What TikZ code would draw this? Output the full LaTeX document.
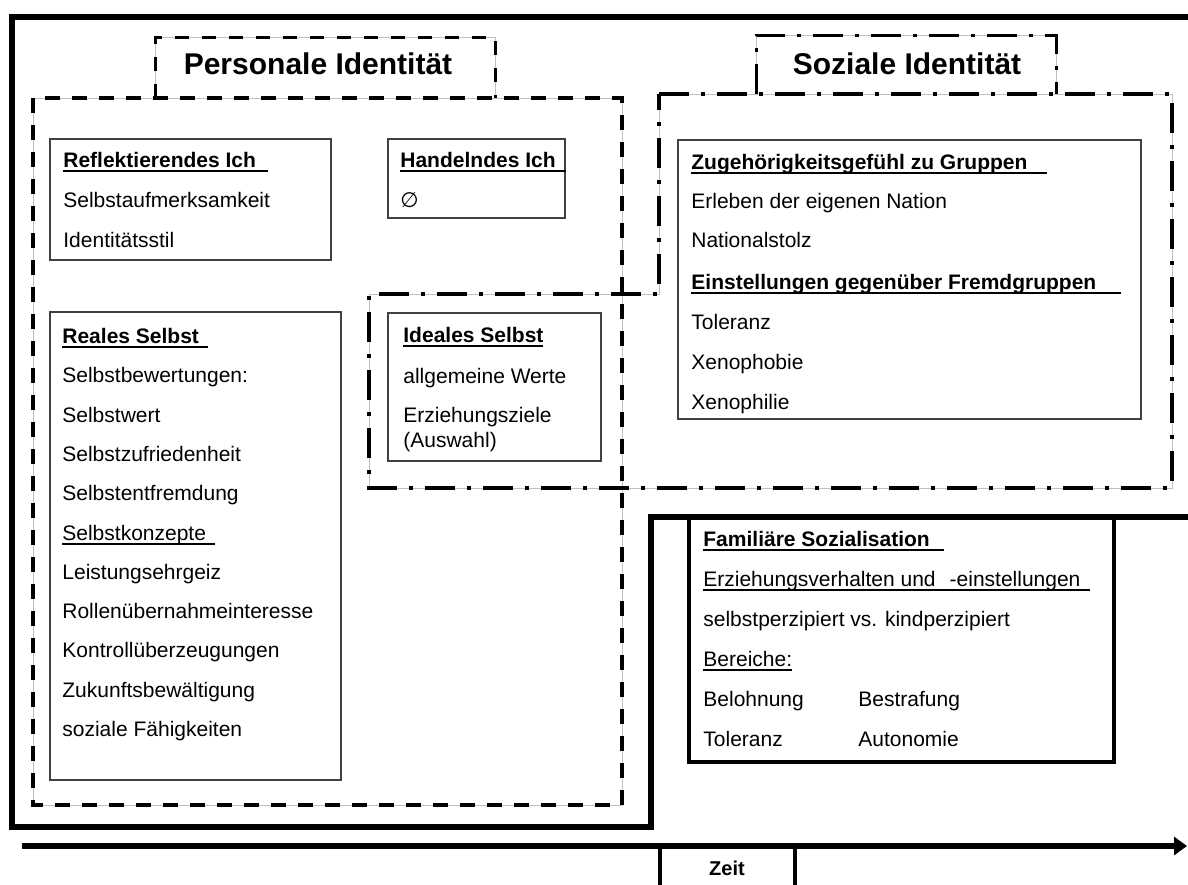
\documentclass[tikz,border=0pt]{standalone}
\usepackage{fontspec}
\setmainfont{Liberation Sans}
\newfontfamily\symfont{DejaVu Sans}
\usetikzlibrary{arrows.meta}

% underline that can run on past the end of the text by #2
\newsavebox\ulbox
\newcommand{\myul}[2]{\sbox\ulbox{#1}\leavevmode\rlap{\rule[-2.4pt]{\dimexpr\wd\ulbox+#2\relax}{0.9pt}}\usebox\ulbox}

\tikzset{
  frame/.style={line width=2.75pt, line join=miter},
  innerbox/.style={draw=black!75, line width=0.7pt},
  famframe/.style={line width=1.6pt, line join=miter},
  guide/.style={draw=black!25, line width=0.5pt},
  pdash/.style={line width=2pt, dash pattern=on 7.5pt off 6pt},
  ptitledash/.style={line width=1.5pt, dash pattern=on 7pt off 6.5pt},
  sdash/.style={line width=2pt, dash pattern=on 15pt off 6pt on 2pt off 6pt},
  stitledash/.style={line width=1.5pt, dash pattern=on 15pt off 6pt on 2pt off 6pt},
  txt/.style={anchor=base west, inner sep=0pt, font=\fontsize{10.5}{12}\selectfont},
  hd/.style={txt, font=\fontsize{10.5}{12}\selectfont\bfseries},
  title/.style={anchor=base, inner sep=0pt, font=\fontsize{15}{18}\selectfont\bfseries},
}

\begin{document}
\begin{tikzpicture}[x=0.5pt, y=-0.5pt]
\useasboundingbox (0,0) rectangle (1188,884);

% ---- outer solid frame ----
\draw[frame] (1200,17) -- (12,17) -- (12,827) -- (651,827) -- (651,517) -- (1200,517);

% ---- Personale Identitaet: dashed region with title tab ----
\draw[guide] (33,98) rectangle (622,805);
\draw[guide] (155,98) -- (155,37) -- (495,37) -- (495,98);
\draw[pdash] (33,98) rectangle (622,805);
\draw[ptitledash] (155,98) -- (155,37) -- (495,37) -- (495,98);
\node[title] (ptitle) at (318,74) {Personale Identität};

% ---- Soziale Identitaet: dash-dot region with title tab ----
\draw[guide] (659,94) -- (1172,94) -- (1172,488) -- (369,488) -- (369,294) -- (659,294) -- cycle;
\draw[guide] (756,94) -- (756,35) -- (1056,35) -- (1056,94);
\draw[sdash] (659,94) -- (1172,94) -- (1172,488) -- (369,488) -- (369,294) -- (659,294) -- cycle;
\draw[stitledash] (756,94) -- (756,35) -- (1056,35) -- (1056,94);
\node[title] (stitle) at (907,74) {Soziale Identität};

% ---- Reflektierendes Ich ----
\draw[innerbox] (50,139) rectangle (331,260);
\node[hd]  (r1) at (63,167) {\myul{Reflektierendes Ich}{6pt}};
\node[txt] (r2) at (63,207) {Selbstaufmerksamkeit};
\node[txt] (r3) at (63,247) {Identitätsstil};

% ---- Handelndes Ich ----
\draw[innerbox] (388,139) rectangle (565,218);
\node[hd]  (h1) at (400,167) {\myul{Handelndes Ich}{5pt}};
\node[txt] (h2) at (400,207) {\symfont ∅};

% ---- Reales Selbst ----
\draw[innerbox] (50,312) rectangle (341,780);
\node[hd]  (rs0)  at (62,343) {\myul{Reales Selbst}{4.5pt}};
\node[txt] (rs1)  at (62,382) {Selbstbewertungen:};
\node[txt] (rs2)  at (62,422) {Selbstwert};
\node[txt] (rs3)  at (62,461) {Selbstzufriedenheit};
\node[txt] (rs4)  at (62,500) {Selbstentfremdung};
\node[txt] (rs5)  at (62,540) {\myul{Selbstkonzepte}{4.5pt}};
\node[txt] (rs6)  at (62,579) {Leistungsehrgeiz};
\node[txt] (rs7)  at (62,618) {Rollenübernahmeinteresse};
\node[txt] (rs8)  at (62,657) {Kontrollüberzeugungen};
\node[txt] (rs9)  at (62,697) {Zukunftsbewältigung};
\node[txt] (rs10) at (62,736) {soziale Fähigkeiten};

% ---- Ideales Selbst ----
\draw[innerbox] (388,313) rectangle (601,461);
\node[hd]  (is0) at (403,342) {\myul{Ideales Selbst}{0pt}};
\node[txt] (is1) at (403,383) {allgemeine Werte};
\node[txt] (is2) at (403,422) {Erziehungsziele};
\node[txt] (is3) at (403,447) {(Auswahl)};

% ---- Zugehoerigkeitsgefuehl / Einstellungen ----
\draw[innerbox] (678,140) rectangle (1141,419);
\node[hd]  (z0) at (691,169) {\myul{Zugehörigkeitsgefühl zu Gruppen}{10pt}};
\node[txt] (z1) at (691,208) {Erleben der eigenen Nation};
\node[txt] (z2) at (691,247) {Nationalstolz};
\node[hd]  (z3) at (691,289) {\myul{Einstellungen gegenüber Fremdgruppen}{12.5pt}};
\node[txt] (z4) at (691,329) {Toleranz};
\node[txt] (z5) at (691,369) {Xenophobie};
\node[txt] (z6) at (691,409) {Xenophilie};

% ---- Familiaere Sozialisation ----
\draw[famframe] (689,517) -- (689,762) -- (1114,762) -- (1114,517);
\node[hd]  (f0) at (703,546) {\myul{Familiäre Sozialisation}{7pt}};
\node[txt] (f1) at (703,586) {\myul{Erziehungsverhalten und\hspace{7pt}-einstellungen}{5pt}};
\node[txt] (f2) at (703,626) {selbstperzipiert vs. kindperzipiert};
\node[txt] (f3) at (703,666) {\myul{Bereiche:}{0pt}};
\node[txt] (f4) at (703,706) {Belohnung};
\node[txt] (f5) at (858,706) {Bestrafung};
\node[txt] (f6) at (703,746) {Toleranz};
\node[txt] (f7) at (858,746) {Autonomie};

% ---- time axis ----
\coordinate (tstart) at (22,846);
\coordinate (tend) at (1187,846);
\draw[line width=3pt, -{Triangle[length=6.5pt, width=9pt]}] (tstart) -- (tend);
\coordinate (zl) at (660,846);
\coordinate (zr) at (795,846);
\draw[line width=1.6pt] (zl) -- ++(0,45);
\draw[line width=1.6pt] (zr) -- ++(0,45);
\node[anchor=base, inner sep=0pt, font=\fontsize{10}{12}\selectfont\bfseries] (zeit) at (727,875) {Zeit};

\end{tikzpicture}
\end{document}
